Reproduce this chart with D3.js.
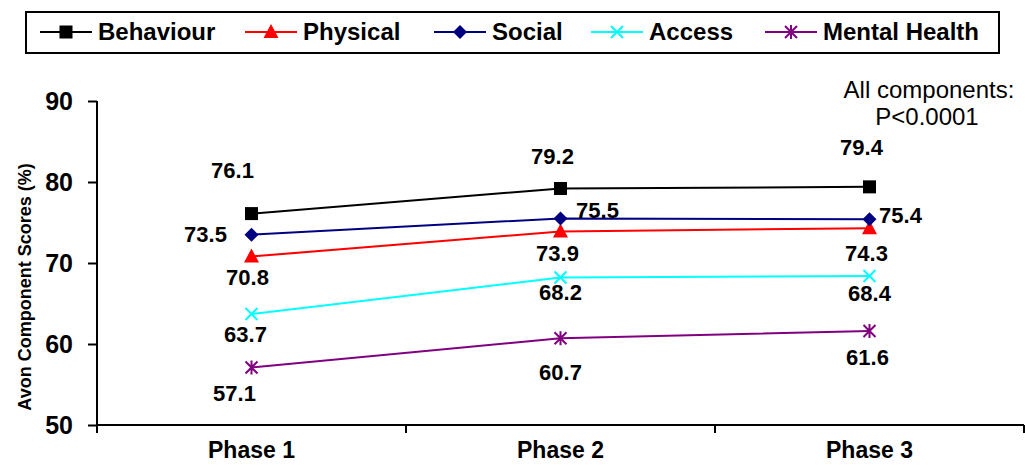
<!DOCTYPE html>
<html><head><meta charset="utf-8">
<script src="https://cdn.jsdelivr.net/npm/d3@7"></script>
<style>body{margin:0;background:#fff}svg{display:block;font-family:"Liberation Sans",Arial,sans-serif}</style>
</head><body><svg id="c" width="1025" height="465"></svg>
<script>
const categories = ["Phase 1", "Phase 2", "Phase 3"];
const seriesNames = ["Behaviour", "Physical", "Social", "Access", "Mental Health"];
const behaviour = [76.1, 79.2, 79.4];
const physical = [70.8, 73.9, 74.3];
const social = [73.5, 75.5, 75.4];
const access = [63.7, 68.2, 68.4];
const mentalHealth = [57.1, 60.7, 61.6];
const yTicks = [50, 60, 70, 80, 90];
const annotation = ["All components:", "P<0.0001"];

const colors = ["#000000", "#ff0000", "#000080", "#00ffff", "#800080"];
const markers = ["square", "triangle", "diamond", "x", "star"];
// label offsets [dx, dy] per series per point
const labelOffsets = [
  [[-19, -43], [-8, -32], [-8, -40]],
  [[-4, 21], [-3, 22], [-3, 25]],
  [[-46, 0], [37, -8], [31, -4]],
  [[-6, 20], [0, 15], [0, 17]],
  [[-17, 26], [0, 34], [-2, 26]]
];
const data = [behaviour, physical, social, access, mentalHealth];
const FONT = "Liberation Sans, Arial, sans-serif";

const svg = d3.select("#c");
const m = {l: 97, r: 1024, t: 101, b: 425};
const x = d3.scaleBand().domain(categories).range([m.l, m.r]);
const y = d3.scaleLinear().domain([50, 90]).range([m.b, m.t]);

// Y axis
const ya = svg.append("g").attr("transform", `translate(${m.l},0)`)
  .call(d3.axisLeft(y).tickValues(yTicks).tickSize(9).tickPadding(15).tickFormat(d3.format("d")));
ya.select(".domain").attr("stroke", "#000").attr("stroke-width", 2).attr("d", `M0,${m.t}V${m.b}`);
ya.selectAll(".tick line").attr("stroke", "#000").attr("stroke-width", 2);
ya.selectAll(".tick text").attr("font-size", 25).attr("font-weight", "bold").attr("fill", "#000")
  .attr("font-family", FONT);

// X axis
const xa = svg.append("g").attr("transform", `translate(0,${m.b})`)
  .call(d3.axisBottom(x).tickSize(0).tickPadding(17));
xa.select(".domain").attr("stroke", "#000").attr("stroke-width", 2).attr("d", `M${m.l},0H${m.r}`);
xa.selectAll(".tick text").attr("font-size", 23).attr("font-weight", "bold").attr("fill", "#000")
  .attr("font-family", FONT);
const bounds = categories.map(c => x(c)).concat([x(categories[categories.length-1]) + x.bandwidth()]);
svg.append("g").selectAll("line").data(bounds).join("line")
  .attr("x1", d => d).attr("x2", d => d).attr("y1", m.b).attr("y2", m.b + 8)
  .attr("stroke", "#000").attr("stroke-width", 2);

// Y title
svg.append("text").attr("transform", `translate(31,${(m.t + m.b) / 2 + 24}) rotate(-90)`)
  .attr("text-anchor", "middle").attr("font-size", 18).attr("font-weight", "bold")
  .text("Avon Component Scores (%)");

function drawMarker(g, type, color, cx, cy) {
  if (type === "square") {
    g.append("rect").attr("x", cx - 6.5).attr("y", cy - 6.5).attr("width", 13).attr("height", 13).attr("fill", color);
  } else if (type === "triangle") {
    g.append("path").attr("d", `M${cx},${cy - 8}L${cx + 7.5},${cy + 6}L${cx - 7.5},${cy + 6}Z`).attr("fill", color);
  } else if (type === "diamond") {
    g.append("path").attr("d", `M${cx},${cy - 7}L${cx + 7},${cy}L${cx},${cy + 7}L${cx - 7},${cy}Z`).attr("fill", color);
  } else if (type === "x") {
    g.append("path").attr("d", `M${cx - 6},${cy - 6}L${cx + 6},${cy + 6}M${cx - 6},${cy + 6}L${cx + 6},${cy - 6}`)
      .attr("stroke", color).attr("stroke-width", 2);
  } else if (type === "star") {
    g.append("path").attr("d", `M${cx - 6},${cy - 6}L${cx + 6},${cy + 6}M${cx - 6},${cy + 6}L${cx + 6},${cy - 6}M${cx},${cy - 7}V${cy + 7}`)
      .attr("stroke", color).attr("stroke-width", 2);
  }
}

const line = d3.line().x((d, i) => x(categories[i]) + x.bandwidth() / 2).y(d => y(d));
const plot = svg.append("g");
data.forEach((vals, s) => {
  plot.append("path").datum(vals).attr("d", line).attr("fill", "none")
    .attr("stroke", colors[s]).attr("stroke-width", 2);
});
data.forEach((vals, s) => {
  vals.forEach((v, i) => {
    drawMarker(plot, markers[s], colors[s], x(categories[i]) + x.bandwidth() / 2, y(v));
  });
});
data.forEach((vals, s) => {
  vals.forEach((v, i) => {
    const cx = x(categories[i]) + x.bandwidth() / 2, cy = y(v);
    const [dx, dy] = labelOffsets[s][i];
    plot.append("text").attr("x", cx + dx).attr("y", cy + dy).attr("dy", "0.35em")
      .attr("text-anchor", "middle").attr("font-size", 22).attr("font-weight", "bold").text(d3.format(".1f")(v));
  });
});

// Annotation
svg.append("g").selectAll("text").data(annotation).join("text")
  .attr("x", (d, i) => i === 0 ? 929 : 927).attr("y", (d, i) => 98 + i * 27)
  .attr("text-anchor", "middle").attr("font-size", 24).text(d => d);

// Legend
const lg = svg.append("g");
lg.append("rect").attr("x", 26).attr("y", 12).attr("width", 973).attr("height", 41)
  .attr("fill", "#fff").attr("stroke", "#000").attr("stroke-width", 2);
const legendX = [40, 245, 434, 591, 765];
seriesNames.forEach((n, s) => {
  const lx = legendX[s];
  lg.append("line").attr("x1", lx).attr("x2", lx + 52).attr("y1", 32).attr("y2", 32)
    .attr("stroke", colors[s]).attr("stroke-width", 2);
  drawMarker(lg, markers[s], colors[s], lx + 26, 32);
  lg.append("text").attr("x", lx + 58).attr("y", 32).attr("dy", "0.35em")
    .attr("font-size", 24).attr("font-weight", "bold").text(n);
});
</script></body></html>
